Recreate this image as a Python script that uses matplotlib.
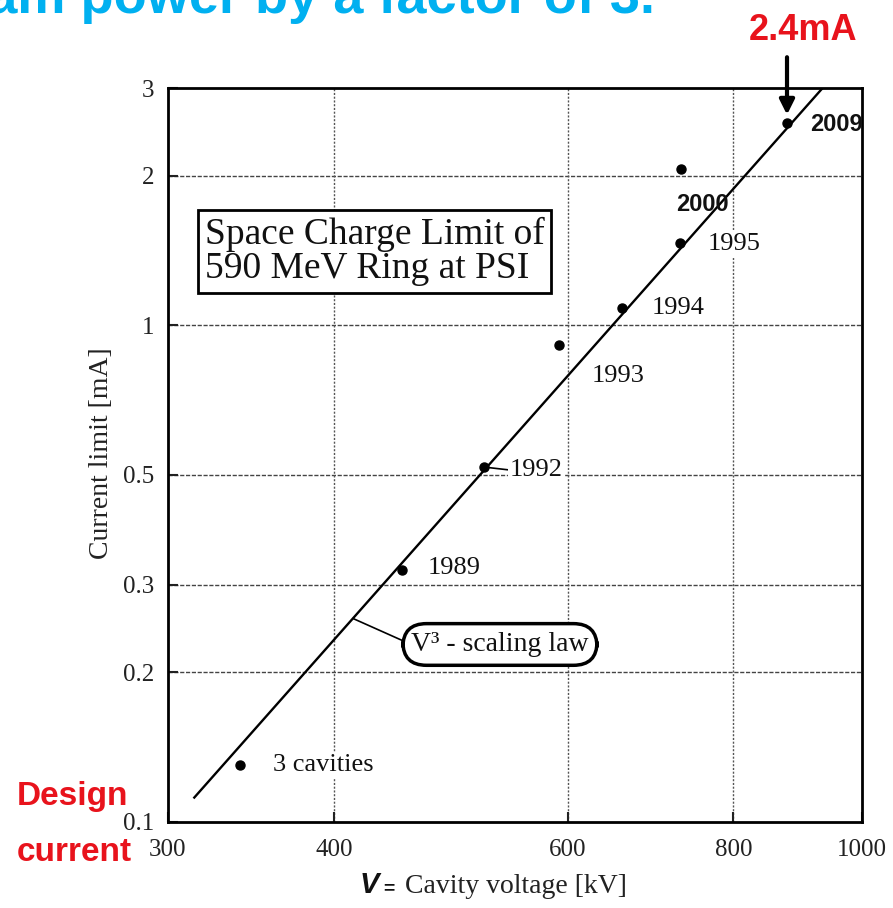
import matplotlib
matplotlib.use('Agg')
import matplotlib.pyplot as plt
from matplotlib.ticker import NullLocator, FixedLocator, FixedFormatter

plt.rcParams['font.family'] = ['Liberation Serif', 'DejaVu Serif']

# ---- data ----
point_labels = ['3 cavities', '1989', '1992', '1993', '1994', '1995', '2000', '2009']
voltage_kv = [340, 450, 519, 591, 660, 729, 731, 878]
current_ma = [0.130, 0.321, 0.518, 0.912, 1.08, 1.46, 2.06, 2.55]
law_v = [314, 934]
law_i = [0.112, 3.0]
xticks = [300, 400, 600, 800, 1000]
xtick_labels = ['300', '400', '600', '800', '1000']
yticks = [0.1, 0.2, 0.3, 0.5, 1, 2, 3]
ytick_labels = ['0.1', '0.2', '0.3', '0.5', '1', '2', '3']
xgrid = [400, 600, 800]
ygrid = [0.2, 0.3, 0.5, 1, 2]

W, H = 893, 908
PX = 72 / 100.0  # pixels -> points

fig = plt.figure(figsize=(W / 100, H / 100), dpi=100)
ax = fig.add_axes([168 / W, 1 - 822 / H, (862 - 168) / W, (822 - 88) / H])
ax.set_xscale('log')
ax.set_yscale('log')
ax.set_xlim(300, 1000)
ax.set_ylim(0.1, 3)

for s in ax.spines.values():
    s.set_linewidth(2.0)

ax.xaxis.set_major_locator(FixedLocator(xticks))
ax.xaxis.set_major_formatter(FixedFormatter(xtick_labels))
ax.yaxis.set_major_locator(FixedLocator(yticks))
ax.yaxis.set_major_formatter(FixedFormatter(ytick_labels))
ax.xaxis.set_minor_locator(NullLocator())
ax.yaxis.set_minor_locator(NullLocator())
ax.tick_params(direction='in', length=7, width=1.5, labelsize=18, colors='#222222')
ax.tick_params(axis='x', pad=12)
ax.tick_params(axis='y', pad=10)

for g in ygrid:
    ax.axhline(g, color='#444444', lw=1.0, ls=(0, (3, 1.2)), zorder=1)
for g in xgrid:
    ax.axvline(g, color='#555555', lw=1.0, ls=(0, (1.5, 1.2)), zorder=1)

# V^3 scaling law line
ax.plot(law_v, law_i, color='black', lw=1.7, zorder=3)
# measured points
ax.plot(voltage_kv, current_ma, 'o', ms=6.5, color='black', zorder=5)

# label offsets (pixels) relative to each point: (dx, dy up)
offsets = {'3 cavities': (33, 0), '1989': (26, 2), '1992': (26, -3), '1993': (33, -31),
           '1994': (29, 0), '1995': (28, -1), '2000': (-5, -35), '2009': (23, -1)}
wb = dict(boxstyle='square,pad=0.08', fc='white', ec='none')
for lab, v, i in zip(point_labels, voltage_kv, current_ma):
    dx, dy = offsets[lab]
    if lab in ('2000', '2009'):
        kw = dict(family=['Liberation Sans', 'DejaVu Sans'], weight='bold', fontsize=17,
                  zorder=6)
    else:
        kw = dict(fontsize=19, bbox=wb, zorder=4)
    ap = None
    if lab == '1992':
        ap = dict(arrowstyle='-', lw=1.2, color='black', shrinkA=0, shrinkB=3, relpos=(0, 0.5))
    ax.annotate(lab, xy=(v, i), xytext=(dx * PX, dy * PX), textcoords='offset points',
                ha='left', va='center', color='#111111', arrowprops=ap,
                annotation_clip=False, **kw)

# V^3 scaling law annotation
xy_v, xy_i = 413.5, 0.2568
ax.annotate('V³ - scaling law', xy=(xy_v, xy_i), xytext=(147 * PX, -26 * PX),
            textcoords='offset points', ha='center', va='center', fontsize=20,
            color='#111111', zorder=6,
            bbox=dict(boxstyle='round,pad=0.3,rounding_size=0.85', fc='white', ec='black', lw=2.5),
            arrowprops=dict(arrowstyle='-', lw=1.2, color='black', shrinkA=0, shrinkB=0,
                            relpos=(0, 0.5)))

# title box
ax.text((374.5 - 168) / 694, (822 - 251.5) / 734,
        'Space Charge Limit of\n590 MeV Ring at PSI', transform=ax.transAxes,
        ha='center', va='center', multialignment='left', fontsize=27, linespacing=0.98,
        color='#111111', zorder=6,
        bbox=dict(boxstyle='square,pad=0.18', fc='white', ec='black', lw=2.0))

# arrow to 2009 point
top_i = 3.46
ax.annotate('', xy=(voltage_kv[-1], current_ma[-1]), xytext=(voltage_kv[-1], top_i),
            annotation_clip=False,
            arrowprops=dict(arrowstyle='-|>', lw=3, color='black', mutation_scale=22,
                            shrinkA=0, shrinkB=6))

# axis labels
fig.text(101 / W, 1 - 453 / H, 'Current limit [mA]', rotation=90, ha='center', va='center',
         fontsize=20, color='#222222')
fig.text(360 / W, 1 - 893 / H, 'V', family=['Liberation Sans'], weight='bold', style='italic',
         fontsize=21, ha='left', va='baseline', color='#111111')
fig.text(383 / W, 1 - 893 / H, '=', family=['Liberation Sans'], weight='bold',
         fontsize=14, ha='left', va='baseline', color='#111111')
fig.text(405 / W, 1 - 893 / H, 'Cavity voltage [kV]', fontsize=20, ha='left', va='baseline',
         color='#222222')

# red / blue slide texts
sans = ['Liberation Sans', 'DejaVu Sans']
red = '#e8131c'
fig.text(803 / W, 1 - 40 / H, '2.4mA', family=sans, weight='bold', fontsize=26, color=red,
         ha='center', va='baseline')
fig.text(17 / W, 1 - 805 / H, 'Design', family=sans, weight='bold', fontsize=24, color=red,
         ha='left', va='baseline')
fig.text(17 / W, 1 - 861 / H, 'current', family=sans, weight='bold', fontsize=24, color=red,
         ha='left', va='baseline')
fig.text(655 / W, 1 - 13 / H, 'beam power by a factor of 3.', family=sans, weight='bold',
         fontsize=39, color='#00b0f0', ha='right', va='baseline')

fig.savefig('out.png', dpi=100)
